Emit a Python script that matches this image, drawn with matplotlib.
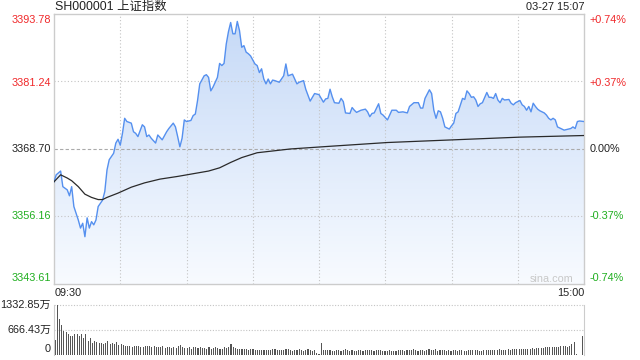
import numpy as np
import matplotlib
matplotlib.use("Agg")
import matplotlib.pyplot as plt
from matplotlib.colors import LinearSegmentedColormap

plt.rcParams['font.family'] = ['Liberation Sans', 'Noto Sans CJK SC', 'DejaVu Sans']

title = "SH000001 上证指数"
timestamp = "03-27 15:07"
pre_close = 3368.70
y_ticks = [3393.78, 3381.24, 3368.70, 3356.16, 3343.61]
pct_ticks = ["+0.74%", "+0.37%", "0.00%", "-0.37%", "-0.74%"]
vol_ticks = ["1332.85万", "666.43万", "0"]
vol_tick_values = [1332.85, 666.43, 0]
time_labels = ["09:30", "15:00"]

price_minute = [
    0, 1, 3, 4, 6, 7, 8, 9, 11, 12,
    13, 14, 15, 16, 17, 18, 19, 20, 22, 23,
    24, 25, 27, 28, 29, 30, 31, 32, 33, 35,
    36, 37, 38, 40, 41, 42, 43, 44, 46, 47,
    49, 51, 52, 54, 55, 56, 57, 58, 59, 60,
    62, 63, 64, 65, 66, 68, 69, 70, 71, 72,
    74, 75, 76, 77, 78, 79, 80, 81, 82, 83,
    84, 85, 86, 87, 88, 89, 91, 92, 93, 94,
    95, 96, 97, 98, 99, 100, 102, 103, 104, 105,
    106, 108, 109, 110, 111, 113, 114, 116, 117, 118,
    120, 122, 123, 124, 125, 126, 127, 129, 130, 131,
    132, 134, 135, 136, 137, 139, 141, 142, 143, 144,
    145, 147, 148, 149, 151, 152, 153, 155, 156, 158,
    160, 161, 163, 165, 166, 167, 168, 170, 171, 172,
    173, 174, 175, 176, 177, 179, 180, 181, 182, 183,
    185, 186, 187, 188, 189, 190, 191, 192, 193, 194,
    196, 197, 198, 199, 200, 201, 202, 203, 204, 206,
    207, 208, 209, 211, 212, 213, 214, 215, 216, 217,
    218, 219, 220, 222, 223, 224, 225, 226, 227, 228,
    230, 231, 233, 234, 235, 236, 237, 238, 240]
price_value = [
    3362.6, 3363.9, 3364.6, 3361.7, 3361.1, 3360.0, 3361.7, 3358.0, 3355.5, 3354.0,
    3354.9, 3352.4, 3355.9, 3354.0, 3355.2, 3354.6, 3355.5, 3358.0, 3359.2, 3360.8,
    3364.8, 3366.7, 3367.9, 3369.8, 3370.5, 3369.4, 3371.6, 3374.4, 3373.8, 3373.5,
    3371.9, 3371.6, 3371.0, 3373.2, 3372.8, 3371.0, 3371.3, 3370.7, 3369.8, 3371.3,
    3370.4, 3371.9, 3372.5, 3373.5, 3372.8, 3371.0, 3369.1, 3370.7, 3374.1, 3373.8,
    3374.0, 3374.9, 3375.2, 3377.7, 3380.8, 3382.3, 3382.5, 3382.0, 3379.5, 3380.2,
    3382.0, 3384.6, 3384.2, 3384.6, 3388.2, 3390.5, 3392.2, 3390.1, 3390.1, 3392.4,
    3390.7, 3387.6, 3387.9, 3386.7, 3386.4, 3386.0, 3384.5, 3384.2, 3382.9, 3383.6,
    3381.7, 3380.8, 3381.7, 3380.8, 3381.5, 3381.4, 3381.1, 3381.7, 3382.3, 3384.5,
    3382.3, 3382.6, 3381.7, 3380.8, 3381.1, 3381.4, 3379.8, 3377.6, 3378.3, 3379.0,
    3378.8, 3377.4, 3378.0, 3378.1, 3379.8, 3378.4, 3377.3, 3377.2, 3378.1, 3377.5,
    3375.4, 3375.3, 3376.4, 3375.9, 3375.5, 3375.9, 3376.1, 3375.6, 3374.7, 3375.3,
    3375.4, 3377.1, 3375.3, 3375.0, 3374.1, 3375.0, 3375.9, 3375.9, 3375.5, 3375.6,
    3375.4, 3376.6, 3377.3, 3377.3, 3376.3, 3376.3, 3378.1, 3379.7, 3379.0, 3375.9,
    3374.4, 3375.8, 3375.6, 3374.4, 3372.8, 3372.4, 3373.0, 3373.5, 3375.3, 3375.6,
    3378.1, 3377.9, 3379.5, 3379.0, 3378.3, 3378.4, 3377.8, 3376.6, 3377.1, 3377.3,
    3379.2, 3378.3, 3378.3, 3378.1, 3379.0, 3377.8, 3377.3, 3378.1, 3377.8, 3377.9,
    3377.2, 3376.9, 3377.3, 3377.7, 3376.9, 3376.6, 3375.9, 3376.6, 3375.6, 3377.2,
    3376.6, 3376.1, 3375.8, 3375.4, 3375.0, 3374.4, 3374.1, 3374.4, 3374.1, 3372.8,
    3372.4, 3372.2, 3372.4, 3372.5, 3372.8, 3372.5, 3373.8, 3373.9, 3373.8]

avg_minute = [0, 3, 6, 8, 11, 14, 17, 20, 22, 24, 29, 35, 41, 48, 56, 63, 70,
              75, 80, 85, 92, 107, 125, 151, 181, 211, 240]
avg_value = [3362.6, 3363.9, 3363.3, 3362.8, 3361.7, 3360.3, 3359.7, 3359.3,
             3359.3, 3359.7, 3360.5, 3361.6, 3362.4, 3363.1, 3363.6, 3364.1,
             3364.6, 3365.2, 3366.2, 3367.1, 3368.0, 3368.7, 3369.2, 3369.9,
             3370.4, 3370.9, 3371.2]

volume = [
    390, 1333, 950, 790, 650, 610, 550, 510, 510, 550,
    550, 510, 550, 440, 560, 370, 440, 330, 380, 350,
    320, 330, 290, 320, 370, 300, 330, 280, 350, 260,
    280, 260, 240, 250, 230, 220, 230, 230, 240, 220,
    220, 250, 240, 230, 220, 230, 200, 210, 210, 230,
    190, 200, 210, 180, 200, 180, 250, 260, 200, 180,
    180, 200, 170, 220, 200, 190, 200, 180, 190, 170,
    220, 170, 190, 200, 180, 170, 160, 200, 180, 200,
    300, 200, 180, 170, 170, 150, 160, 150, 140, 170,
    150, 140, 140, 130, 140, 140, 120, 130, 140, 160,
    150, 130, 140, 130, 120, 160, 150, 130, 110, 140,
    130, 150, 120, 110, 130, 150, 120, 110, 130, 50,
    30, 330, 120, 130, 120, 130, 110, 110, 130, 120,
    110, 130, 150, 120, 110, 130, 110, 100, 140, 130,
    100, 130, 130, 120, 140, 110, 120, 130, 140, 110,
    100, 110, 120, 100, 110, 110, 130, 120, 130, 110,
    120, 130, 120, 150, 140, 110, 130, 140, 110, 130,
    150, 120, 130, 150, 110, 130, 140, 130, 110, 140,
    100, 140, 120, 110, 130, 120, 110, 110, 130, 120,
    120, 130, 120, 110, 110, 130, 120, 120, 130, 130,
    140, 130, 150, 140, 130, 140, 150, 140, 150, 160,
    150, 150, 160, 170, 160, 160, 170, 180, 170, 180,
    190, 190, 180, 200, 210, 200, 220, 220, 210, 220,
    230, 230, 230, 220, 240, 290, 340, 20, 10, 10,
    500]

RED = '#f0282a'
GREEN = '#1fae1f'
BLACK = '#222222'

W, H = 640, 360
fig = plt.figure(figsize=(6.4, 3.6), dpi=100)


def px_axes(x0, y0, x1, y1):
    return fig.add_axes([x0 / W, 1 - y1 / H, (x1 - x0) / W, (y1 - y0) / H])


def ftext(x, y, s, **kw):
    fig.text(x / W, 1 - y / H, s, **kw)


ax = px_axes(54, 14, 584, 284)
axv = px_axes(54, 305, 584, 355)

ymin, ymax = y_ticks[-1], y_ticks[0]
ax.set_xlim(0, 240)
ax.set_ylim(ymin, ymax)

# gradient fill under the price line
poly = ax.fill_between(price_minute, price_value, ymin, color='none', lw=0)
cmap = LinearSegmentedColormap.from_list('g', ['#f8fbff', '#c5d9f7'])
grad = np.linspace(0, 1, 256).reshape(-1, 1)
im = ax.imshow(grad, cmap=cmap, aspect='auto', origin='lower',
               extent=[0, 240, ymin, ymax], zorder=1)
im.set_clip_path(poly.get_paths()[0], transform=ax.transData)

# grid
for m in range(30, 240, 30):
    ax.axvline(m, color='#c4c4c4', lw=0.8, ls=(0, (1, 2)), zorder=2)
for v in [y_ticks[1], y_ticks[3]]:
    ax.axhline(v, color='#c4c4c4', lw=0.8, ls=(0, (1, 2)), zorder=2)
ax.axhline(pre_close, color='#aaaaaa', lw=0.8, ls=(0, (3, 2)), zorder=2)

ax.plot(price_minute, price_value, color='#5590ef', lw=1.0, zorder=3)
ax.plot(avg_minute, avg_value, color='#2a2a2a', lw=0.9, zorder=4)

ax.set_xticks([])
ax.set_yticks([])
for s in ax.spines.values():
    s.set_color('#cccccc')
    s.set_linewidth(1.0)

# volume panel
axv.set_xlim(-0.5, 240.5)
axv.set_ylim(0, vol_tick_values[0])
axv.bar(np.arange(len(volume)), volume, width=0.5, color='#555555', lw=0)
for v in vol_tick_values[:2]:
    axv.axhline(v, color='#c4c4c4', lw=0.8, ls=(0, (1, 1.5)), zorder=0.5, clip_on=False)
axv.set_xticks([])
axv.set_yticks([])
for k in ['top', 'bottom']:
    axv.spines[k].set_visible(False)
for k in ['left', 'right']:
    axv.spines[k].set_color('#cccccc')

# texts
fs = 7.8
ftext(55, 7, title, fontsize=8.9, color=BLACK, va='center', ha='left')
ftext(584, 7, timestamp, fontsize=7.9, color=BLACK, va='center', ha='right')

label_y = [20, 83, 149, 216, 278]
label_col = [RED, RED, BLACK, GREEN, GREEN]
for yv, txt, pt, col in zip(label_y, y_ticks, pct_ticks, label_col):
    ftext(51, yv, f"{txt:.2f}", fontsize=fs, color=col, va='center', ha='right')
    ftext(590, yv, pt, fontsize=fs, color=col, va='center', ha='left')

ftext(55, 293, time_labels[0], fontsize=fs, color=BLACK, va='center', ha='left')
ftext(584, 293, time_labels[1], fontsize=fs, color=BLACK, va='center', ha='right')
ftext(573, 279, "sina.com", fontsize=fs, color='#c8c8c8', va='center', ha='right')

for yv, txt in zip([305, 330, 349], vol_ticks):
    ftext(51, yv, txt, fontsize=fs, color=BLACK, va='center', ha='right')

fig.savefig('out.png', dpi=100)
